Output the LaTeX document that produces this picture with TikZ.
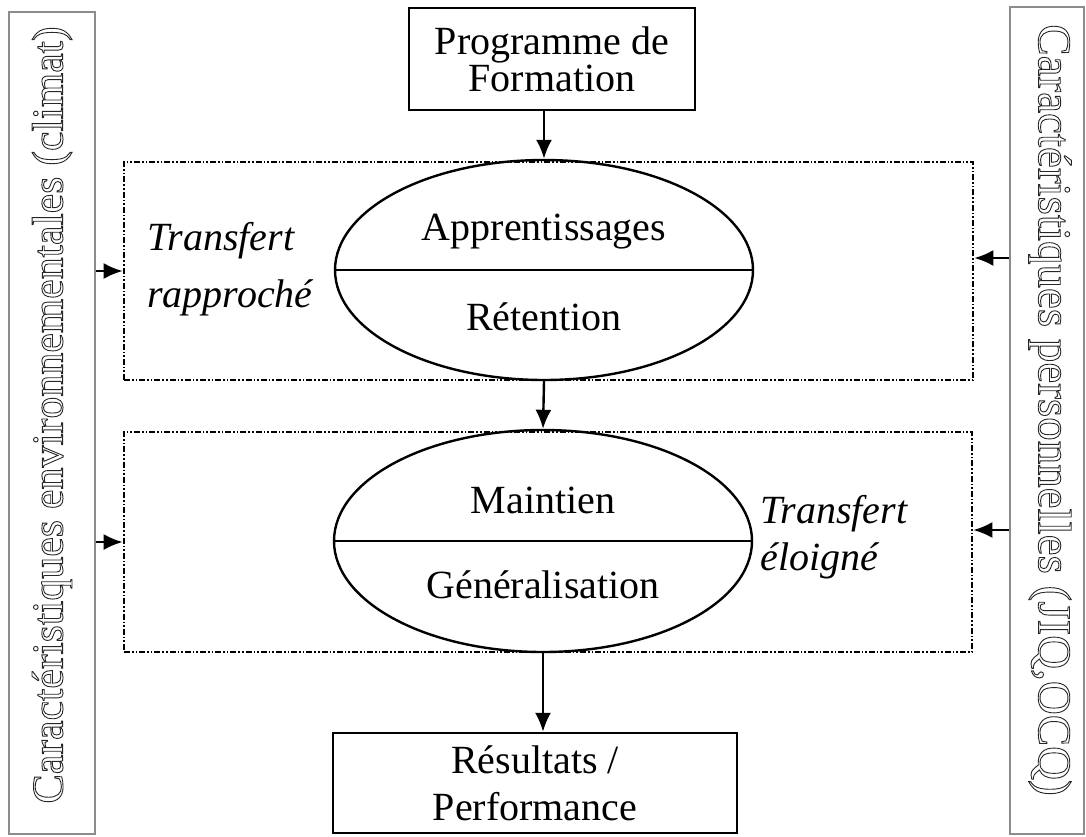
\documentclass[tikz,border=0pt]{standalone}
\usepackage{fontspec}
\setmainfont{Liberation Serif}
\usetikzlibrary{arrows.meta,shapes.geometric,positioning}
\newcommand{\outlinetext}[1]{\special{pdf:literal direct 1 Tr 0.45 w}#1\special{pdf:literal direct 0 Tr}}

\begin{document}
\begin{tikzpicture}[%
            x=0.5pt, y=-0.5pt,
            every node/.style={font=\fontsize{20}{18.5}\selectfont},
            box/.style={draw, line width=1.2pt, inner sep=0pt, align=center},
            zone/.style={draw, line width=1.3pt, inner sep=0pt,
                dash pattern=on 3pt off 1pt on 0.8pt off 1pt on 0.8pt off 1pt},
            phase/.style={draw, ellipse, line width=1.2pt, inner sep=0pt,
                minimum width=209pt, minimum height=110pt},
            side/.style={draw=black!45, line width=0.6pt, inner sep=0pt},
            sidetext/.style={text=black!85, inner sep=0pt},
            transfert/.style={align=left, anchor=west, inner sep=0pt},
            link/.style={-{Latex[length=9.5pt,width=8pt]}, line width=1.2pt},
        ]
        \useasboundingbox (0,0) rectangle (1086,836);
        \node[side, minimum width=43pt, minimum height=411pt] (environ) at (52,423) {};
        \node[side, minimum width=37pt, minimum height=413.5pt] (personne) at (1047,420.5) {};
        \node[sidetext, rotate=90, font=\fontsize{22}{26}\selectfont] (climat) at (52,415)
            {\outlinetext{Caractéristiques environnementales (climat)}};
        \node[sidetext, rotate=-90, font=\fontsize{23.5}{28}\selectfont] (jiq) at (1050,410)
            {\outlinetext{Caractéristiques personnelles (JIQ,OCQ)}};

        \node[box, minimum width=143pt, minimum height=51pt] (programme) at (552,59)
            {Programme de\\Formation};

        \node[zone, minimum width=424.5pt, minimum height=109pt] (zone1) at (548.5,271) {};
        \node[zone, minimum width=424pt, minimum height=110pt] (zone2) at (548,542) {};

        \node[phase] (apprentissage) at (544,270) {};
        \node[phase, minimum height=111pt] (maintien) at (543,541) {};
        \draw[line width=1.2pt] (apprentissage.west) -- (apprentissage.east);
        \draw[line width=1.2pt] (maintien.west) -- (maintien.east);
        \node (appr) at (544,232) {Apprentissages};
        \node (retention) at (544,317) {Rétention};
        \node (maint) at (543,500) {Maintien};
        \node (general) at (543,585) {Généralisation};

        \node[transfert, font=\fontsize{20}{28.5}\selectfont\itshape] (proche) at (147,269)
            {Transfert\\rapproché};
        \node[transfert, font=\fontsize{20}{23.5}\selectfont\itshape] (loin) at (760,537)
            {Transfert\\éloigné};

        \node[box, minimum width=202pt, minimum height=50pt, font=\fontsize{20}{23.5}\selectfont] (resultats) at (535,783)
            {Résultats /\\Performance};

        \draw[link] (programme.south -| apprentissage.north) -- (apprentissage.north);
        \draw[link] (apprentissage.south) -- (maintien.north);
        \draw[link] (maintien.south) -- (resultats.north -| maintien.south);

        \coordinate (droite1) at ([yshift=6.5pt]zone1.east);
        \coordinate (droite2) at ([yshift=6pt]zone2.east);
        \draw[link] (environ.east |- zone1.west) -- (zone1.west);
        \draw[link] (environ.east |- zone2.west) -- (zone2.west);
        \draw[link] (personne.west |- droite1) -- (droite1);
        \draw[link] (personne.west |- droite2) -- (droite2);
\end{tikzpicture}
\end{document}
